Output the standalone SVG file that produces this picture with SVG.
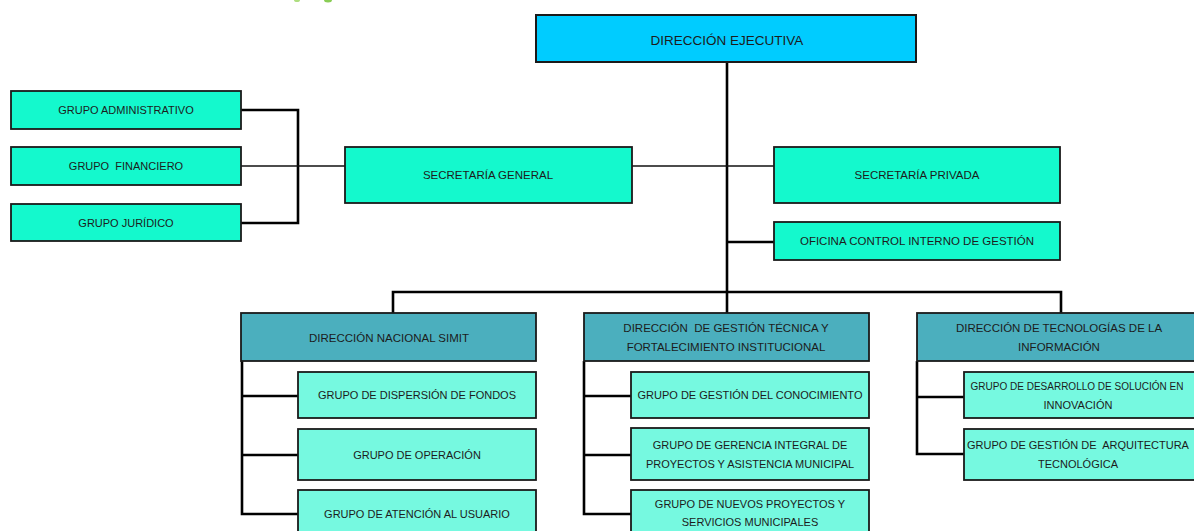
<svg xmlns="http://www.w3.org/2000/svg" width="1194" height="531" viewBox="0 0 1194 531">
<style>
text{font-family:"Liberation Sans",Arial,sans-serif;fill:#1c1c1c;text-anchor:middle;dominant-baseline:central}
.top{fill:#00CCFF;stroke:#1a1a1a;stroke-width:2}
.l1{fill:#14F9CD;stroke:#1a1a1a;stroke-width:1.8}
.dir{fill:#4BAFBE;stroke:#1a1a1a;stroke-width:1.8}
.grp{fill:#76F9E0;stroke:#1a1a1a;stroke-width:1.8}
.c{fill:none;stroke:#000;stroke-width:2.6}
.t{fill:none;stroke:#111;stroke-width:1.5}
.s11{font-size:11px}
.s12{font-size:11.5px}
</style>
<ellipse cx="297" cy="0" rx="3" ry="2" fill="#8CD04A" opacity="0.7"/>
<ellipse cx="328" cy="0" rx="4" ry="2.5" fill="#6CC02A" opacity="0.8"/>
<g id="connectors">
<path class="c" d="M727 62 V292"/>
<path class="t" d="M632 166 H774"/>
<path class="c" d="M727 242 H774"/>
<path class="c" d="M393 313 V292 H1061 V313"/>
<path class="c" d="M727 292 V313"/>
<path class="c" d="M241 110 H298 V223 H241"/>
<path class="t" d="M241 166 H345"/>
<path class="c" d="M242 361 V514 H298 M242 396 H298 M242 455 H298"/>
<path class="c" d="M584 361 V514 H631 M584 396 H631 M584 455 H631"/>
<path class="c" d="M917 361 V454 H964 M917 397 H964"/>
</g>
<g id="direccion-ejecutiva"><rect class="top" x="536" y="15" width="380" height="47"/><text x="727" y="40" style="font-size:13.5px">DIRECCIÓN EJECUTIVA</text></g>
<g id="grupo-administrativo"><rect class="l1" x="11" y="91" width="230" height="38"/><text class="s11" x="126" y="110">GRUPO ADMINISTRATIVO</text></g>
<g id="grupo-financiero"><rect class="l1" x="11" y="147" width="230" height="38"/><text class="s11" x="126" y="166" xml:space="preserve">GRUPO  FINANCIERO</text></g>
<g id="grupo-juridico"><rect class="l1" x="11" y="204" width="230" height="37"/><text class="s11" x="126" y="223">GRUPO JURÍDICO</text></g>
<g id="secretaria-general"><rect class="l1" x="345" y="147" width="287" height="56"/><text class="s12" x="488" y="175">SECRETARÍA GENERAL</text></g>
<g id="secretaria-privada"><rect class="l1" x="774" y="147" width="286" height="56"/><text class="s12" x="917" y="175">SECRETARÍA PRIVADA</text></g>
<g id="oficina-control"><rect class="l1" x="774" y="222" width="286" height="38"/><text class="s12" x="917" y="241">OFICINA CONTROL INTERNO DE GESTIÓN</text></g>
<g id="direccion-simit"><rect class="dir" x="241" y="313" width="295" height="48"/><text class="s12" x="389" y="338">DIRECCIÓN NACIONAL SIMIT</text></g>
<g id="grupo-dispersion"><rect class="grp" x="298" y="372" width="238" height="46"/><text class="s11" x="417" y="395">GRUPO DE DISPERSIÓN DE FONDOS</text></g>
<g id="grupo-operacion"><rect class="grp" x="298" y="429" width="238" height="51"/><text class="s11" x="417" y="455">GRUPO DE OPERACIÓN</text></g>
<g id="grupo-atencion"><rect class="grp" x="298" y="490" width="238" height="50"/><text class="s11" x="417" y="514">GRUPO DE ATENCIÓN AL USUARIO</text></g>
<g id="direccion-gestion"><rect class="dir" x="584" y="313" width="285" height="48"/><text class="s12" x="726" y="328" xml:space="preserve">DIRECCIÓN  DE GESTIÓN TÉCNICA Y</text><text class="s12" x="726" y="347">FORTALECIMIENTO INSTITUCIONAL</text></g>
<g id="grupo-conocimiento"><rect class="grp" x="631" y="372" width="238" height="46"/><text class="s11" x="750" y="395">GRUPO DE GESTIÓN DEL CONOCIMIENTO</text></g>
<g id="grupo-gerencia"><rect class="grp" x="631" y="428" width="238" height="52"/><text class="s11" x="750" y="445">GRUPO DE GERENCIA INTEGRAL DE</text><text class="s11" x="750" y="464">PROYECTOS Y ASISTENCIA MUNICIPAL</text></g>
<g id="grupo-nuevos"><rect class="grp" x="631" y="490" width="238" height="50"/><text class="s11" x="750" y="504">GRUPO DE NUEVOS PROYECTOS Y</text><text class="s11" x="750" y="522">SERVICIOS MUNICIPALES</text></g>
<g id="direccion-tecnologias"><rect class="dir" x="917" y="313" width="284" height="48"/><text class="s12" x="1059" y="328">DIRECCIÓN DE TECNOLOGÍAS DE LA</text><text class="s12" x="1059" y="347">INFORMACIÓN</text></g>
<g id="grupo-desarrollo"><rect class="grp" x="964" y="372" width="238" height="46"/><text x="1077" y="386" style="font-size:10px">GRUPO DE DESARROLLO DE SOLUCIÓN EN</text><text class="s11" x="1078" y="405">INNOVACIÓN</text></g>
<g id="grupo-arquitectura"><rect class="grp" x="964" y="429" width="238" height="51"/><text class="s11" x="1078" y="445" xml:space="preserve">GRUPO DE GESTIÓN DE  ARQUITECTURA</text><text class="s11" x="1078" y="464">TECNOLÓGICA</text></g>
</svg>
